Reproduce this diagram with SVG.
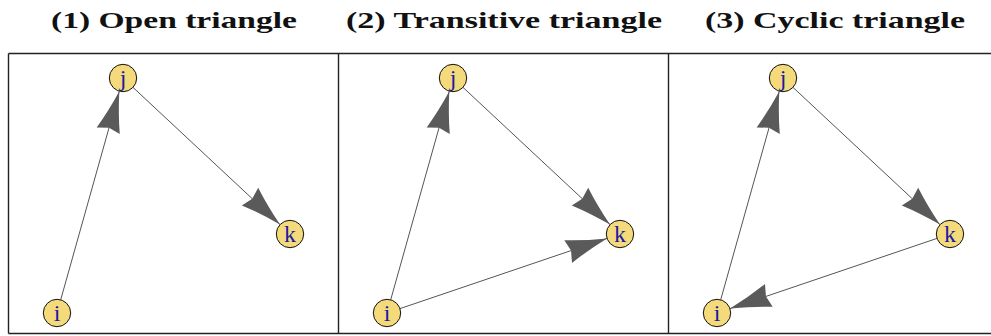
<svg xmlns="http://www.w3.org/2000/svg" width="991" height="336" viewBox="0 0 991 336">
<style>
.title{font-family:"Liberation Serif","DejaVu Serif",serif;font-weight:bold;font-size:24px;fill:#111;text-anchor:middle}
.frame{stroke:#222;stroke-width:1.4;fill:none}
.edge{stroke:#555;stroke-width:1;fill:none;marker-end:url(#ah)}
.node circle{fill:#f5da7c;stroke:#111;stroke-width:1}
.node text{font-family:"Liberation Serif",serif;font-size:24px;fill:#1a1aa0;text-anchor:middle}
</style>
<defs>
<marker id="ah" markerUnits="userSpaceOnUse" orient="auto" refX="0" refY="0" markerWidth="50" markerHeight="30" style="overflow:visible">
<path d="M0,0 Q-22,-5 -41,-12 L-38,0 L-41,12 Q-22,5 0,0 Z" fill="#5a5a5a" stroke="none"/>
</marker>
</defs>
<text class="title" x="174" y="28" textLength="246" lengthAdjust="spacingAndGlyphs">(1) Open triangle</text>
<text class="title" x="504" y="28" textLength="316" lengthAdjust="spacingAndGlyphs">(2) Transitive triangle</text>
<text class="title" x="835" y="28" textLength="260" lengthAdjust="spacingAndGlyphs">(3) Cyclic triangle</text>
<g id="frame">
<line class="frame" x1="8.5" y1="53.5" x2="991" y2="53.5"/>
<line class="frame" x1="8.5" y1="333.5" x2="991" y2="333.5"/>
<line class="frame" x1="8.5" y1="53.5" x2="8.5" y2="333.5"/>
<line class="frame" x1="338.5" y1="53.5" x2="338.5" y2="333.5"/>
<line class="frame" x1="668.5" y1="53.5" x2="668.5" y2="333.5"/>
</g>
<g id="connectors">
<line class="edge" x1="60.7" y1="299.8" x2="119.3" y2="91.2"/>
<line class="edge" x1="133.0" y1="87.4" x2="280.0" y2="224.6"/>
<line class="edge" x1="390.7" y1="299.8" x2="449.3" y2="91.2"/>
<line class="edge" x1="463.0" y1="87.4" x2="610.0" y2="224.6"/>
<line class="edge" x1="400.0" y1="308.6" x2="607.0" y2="238.4"/>
<line class="edge" x1="720.7" y1="299.8" x2="779.3" y2="91.2"/>
<line class="edge" x1="793.0" y1="87.4" x2="940.0" y2="224.6"/>
<line class="edge" x1="937.0" y1="238.4" x2="730.0" y2="308.6"/>
</g>
<g id="p1_i" class="node"><circle cx="57" cy="313" r="13.7"/><text x="57" y="321">i</text></g>
<g id="p1_j" class="node"><circle cx="123" cy="78" r="13.7"/><text x="123" y="86">j</text></g>
<g id="p1_k" class="node"><circle cx="290" cy="234" r="13.7"/><text x="290" y="242">k</text></g>
<g id="p2_i" class="node"><circle cx="387" cy="313" r="13.7"/><text x="387" y="321">i</text></g>
<g id="p2_j" class="node"><circle cx="453" cy="78" r="13.7"/><text x="453" y="86">j</text></g>
<g id="p2_k" class="node"><circle cx="620" cy="234" r="13.7"/><text x="620" y="242">k</text></g>
<g id="p3_i" class="node"><circle cx="717" cy="313" r="13.7"/><text x="717" y="321">i</text></g>
<g id="p3_j" class="node"><circle cx="783" cy="78" r="13.7"/><text x="783" y="86">j</text></g>
<g id="p3_k" class="node"><circle cx="950" cy="234" r="13.7"/><text x="950" y="242">k</text></g>
</svg>
